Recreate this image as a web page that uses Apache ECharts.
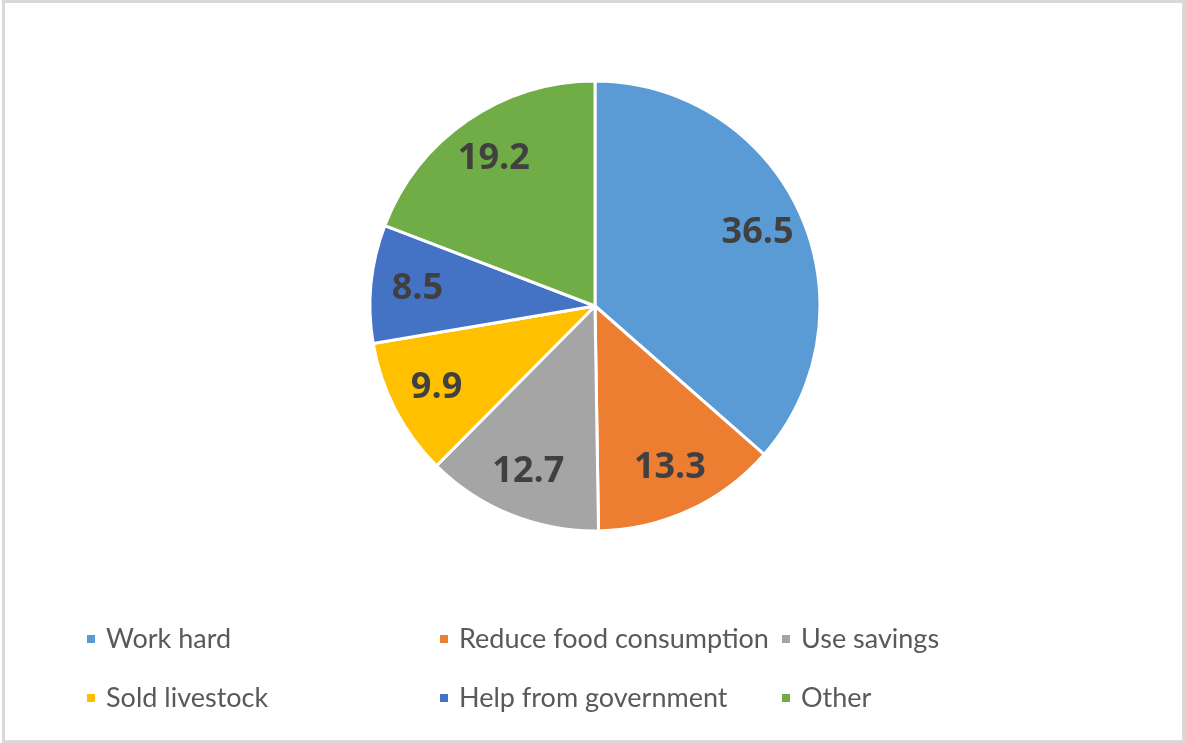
<!DOCTYPE html>
<html>
<head>
<meta charset="utf-8">
<script src="https://cdn.jsdelivr.net/npm/echarts@6/dist/echarts.min.js"></script>
<style>
  html, body { margin: 0; padding: 0; background: #fff; }
  #chart { width: 1185px; height: 743px; }
</style>
</head>
<body>
<div id="chart"></div>
<script>
// Données du graphique
const categories = ['Work hard', 'Reduce food consumption', 'Use savings', 'Sold livestock', 'Help from government', 'Other'];
const values = [36.5, 13.3, 12.7, 9.9, 8.5, 19.2];
const colors = ['#5B9BD5', '#ED7D31', '#A5A5A5', '#FFC000', '#4472C4', '#70AD47'];

// Colonnes de la légende (disposition 2 lignes x 3 colonnes)
const legendCols = [
  [categories[0], categories[3]],
  [categories[1], categories[4]],
  [categories[2], categories[5]]
];
const legendLeft = [80, 433, 775];

const chart = echarts.init(document.getElementById('chart'), null, { renderer: 'canvas' });

const pieData = categories.map((name, i) => ({
  name: name,
  value: values[i],
  itemStyle: { color: colors[i] }
}));

const option = {
  animation: false,
  backgroundColor: '#fff',
  graphic: [{
    type: 'rect',
    shape: { x: 3.5, y: 1.5, width: 1180, height: 740 },
    style: { fill: 'none', stroke: '#d9d9d9', lineWidth: 3 }
  }],
  legend: legendCols.map((col, i) => ({
    data: col,
    orient: 'vertical',
    left: legendLeft[i],
    top: 619,
    icon: 'rect',
    itemWidth: 10,
    itemHeight: 10,
    itemGap: 29,
    textStyle: { fontFamily: 'Lato', fontSize: 27, color: '#595959', lineHeight: 30, padding: [0, 0, 0, 5] }
  })),
  series: [
    {
      type: 'pie',
      center: [595, 306],
      radius: 225,
      startAngle: 90,
      clockwise: true,
      silent: true,
      label: { show: false },
      labelLine: { show: false },
      itemStyle: { borderColor: '#fff', borderWidth: 3 },
      data: pieData
    },
    {
      // anneau transparent pour placer les étiquettes plus loin du centre
      type: 'pie',
      center: [595, 306],
      radius: [126, 225],
      startAngle: 90,
      clockwise: true,
      silent: true,
      legendHoverLink: false,
      itemStyle: { color: 'transparent', borderWidth: 0 },
      label: {
        show: true,
        position: 'inside',
        formatter: p => p.value.toFixed(1),
        fontFamily: 'Open Sans',
        fontWeight: 'bold',
        fontSize: 36,
        color: '#404040'
      },
      labelLine: { show: false },
      data: categories.map((name, i) => ({ name: name, value: values[i] }))
    }
  ]
};

chart.setOption(option);
</script>
</body>
</html>
